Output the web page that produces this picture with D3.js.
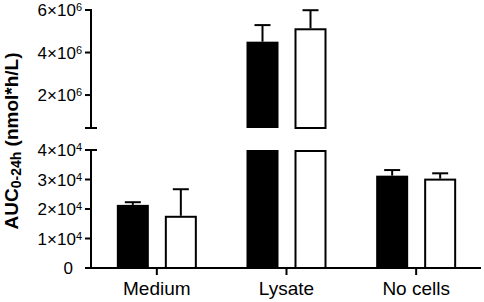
<!DOCTYPE html>
<html>
<head>
<script src="https://d3js.org/d3.v7.min.js"></script>
<style>
  body{ margin:0; background:#fff; font-family:"Liberation Sans", Arial, sans-serif; }
</style>
</head>
<body>
<div id="chart"></div>
<script>
var categories = ["Medium", "Lysate", "No cells"]
var series = ["filled", "open"]
var filledMean = [2.14e4, 4.51e6, 3.13e4]
var filledErr  = [0.09e4, 0.78e6, 0.19e4]
var openMean   = [1.77e4, 5.14e6, 3.03e4]
var openErr    = [0.90e4, 0.85e6, 0.18e4]
var lowTicks  = [0, 1e4, 2e4, 3e4, 4e4]
var highTicks = [2e6, 4e6, 6e6]
var lowMax = 4e4, highMin = 0.45e6, highMax = 6e6

var W = 484, H = 302
var svg = d3.select("#chart").append("svg").attr("width", W).attr("height", H)

var axisX = 91
var yLow = d3.scaleLinear().domain([0, lowMax]).range([268, 150])
var yHigh = d3.scaleLinear().domain([highMin, highMax]).range([128, 10])
var x = d3.scaleBand().domain(categories).range([92, 481]).padding(0)
var xSub = d3.scaleBand().domain(series).range([-40, 40]).paddingInner(1/3)

var rows = []
categories.forEach(function(c, i){
    rows.push({cat: c, s: "filled", v: filledMean[i], e: filledErr[i]})
    rows.push({cat: c, s: "open", v: openMean[i], e: openErr[i]})
})

function barX(d){ return x(d.cat) + x.bandwidth()/2 + xSub(d.s) }
var bw = xSub.bandwidth()

var g = svg.append("g")
rows.forEach(function(d){
    var x0 = barX(d)
    var segs = []
    if (d.v <= lowMax) {
        segs.push([yLow(d.v), yLow(0)])
    } else {
        segs.push([yLow(lowMax), yLow(0)])
        segs.push([yHigh(d.v), yHigh(highMin)])
    }
    segs.forEach(function(s){
        if (d.s == "filled") {
            g.append("rect").attr("x", x0).attr("y", s[0]).attr("width", bw).attr("height", s[1]-s[0])
                .attr("fill", "#000")
        } else {
            g.append("rect").attr("x", x0+1).attr("y", s[0]+1).attr("width", bw-2).attr("height", s[1]-s[0]-1)
                .attr("fill", "#fff").attr("stroke", "#000").attr("stroke-width", 2)
        }
    })
    // error bar, upward only
    var ys = d.v <= lowMax ? yLow : yHigh
    var cx = x0 + bw/2
    g.append("line").attr("x1", cx).attr("x2", cx).attr("y1", ys(d.v)).attr("y2", ys(d.v + d.e))
        .attr("stroke", "#000").attr("stroke-width", 2)
    g.append("line").attr("x1", cx-8).attr("x2", cx+8).attr("y1", ys(d.v + d.e)).attr("y2", ys(d.v + d.e))
        .attr("stroke", "#000").attr("stroke-width", 2)
})

// axes
var ax = svg.append("g").attr("stroke", "#000").attr("stroke-width", 2)
ax.append("line").attr("x1", axisX).attr("x2", axisX).attr("y1", yLow(lowMax)).attr("y2", yLow(0)+1)
ax.append("line").attr("x1", axisX-6).attr("x2", axisX+6).attr("y1", yLow(lowMax)).attr("y2", yLow(lowMax))
ax.append("line").attr("x1", axisX).attr("x2", axisX).attr("y1", yHigh(highMax)-1).attr("y2", yHigh(highMin))
ax.append("line").attr("x1", axisX-6).attr("x2", axisX+6).attr("y1", yHigh(highMin)).attr("y2", yHigh(highMin))
ax.append("line").attr("x1", axisX).attr("x2", 481).attr("y1", yLow(0)).attr("y2", yLow(0))

lowTicks.forEach(function(t){
    ax.append("line").attr("x1", axisX-6).attr("x2", axisX).attr("y1", yLow(t)).attr("y2", yLow(t))
})
highTicks.forEach(function(t){
    ax.append("line").attr("x1", axisX-6).attr("x2", axisX).attr("y1", yHigh(t)).attr("y2", yHigh(t))
})
categories.forEach(function(c){
    var cx = x(c) + x.bandwidth()/2
    ax.append("line").attr("x1", cx).attr("x2", cx).attr("y1", yLow(0)).attr("y2", yLow(0)+7)
})

function sciLabel(v, y){
    var t = svg.append("text").attr("x", 82).attr("y", y + 6).attr("text-anchor", "end")
        .attr("font-size", 17).attr("fill", "#000")
    if (v == 0) { t.attr("x", 73).text("0"); return }
    var e = Math.floor(Math.log10(v) + 1e-9)
    var m = Math.round(v / Math.pow(10, e))
    t.append("tspan").text(m + "\u00d710")
    t.append("tspan").attr("font-size", 11).attr("dy", -5).text(e)
}
lowTicks.forEach(function(t){ sciLabel(t, yLow(t)) })
highTicks.forEach(function(t){ sciLabel(t, yHigh(t)) })

categories.forEach(function(c){
    svg.append("text").attr("x", x(c) + x.bandwidth()/2).attr("y", 295)
        .attr("text-anchor", "middle").attr("font-size", 19).attr("fill", "#000").text(c)
})

var yl = svg.append("text").attr("transform", "translate(18,141) rotate(-90)")
    .attr("text-anchor", "middle").attr("font-size", 19).attr("font-weight", "bold").attr("fill", "#000")
yl.append("tspan").text("AUC")
yl.append("tspan").attr("font-size", 14).attr("dy", 3).text("0-24h")
yl.append("tspan").attr("dy", -3).text(" (nmol*h/L)")
</script>
</body>
</html>
